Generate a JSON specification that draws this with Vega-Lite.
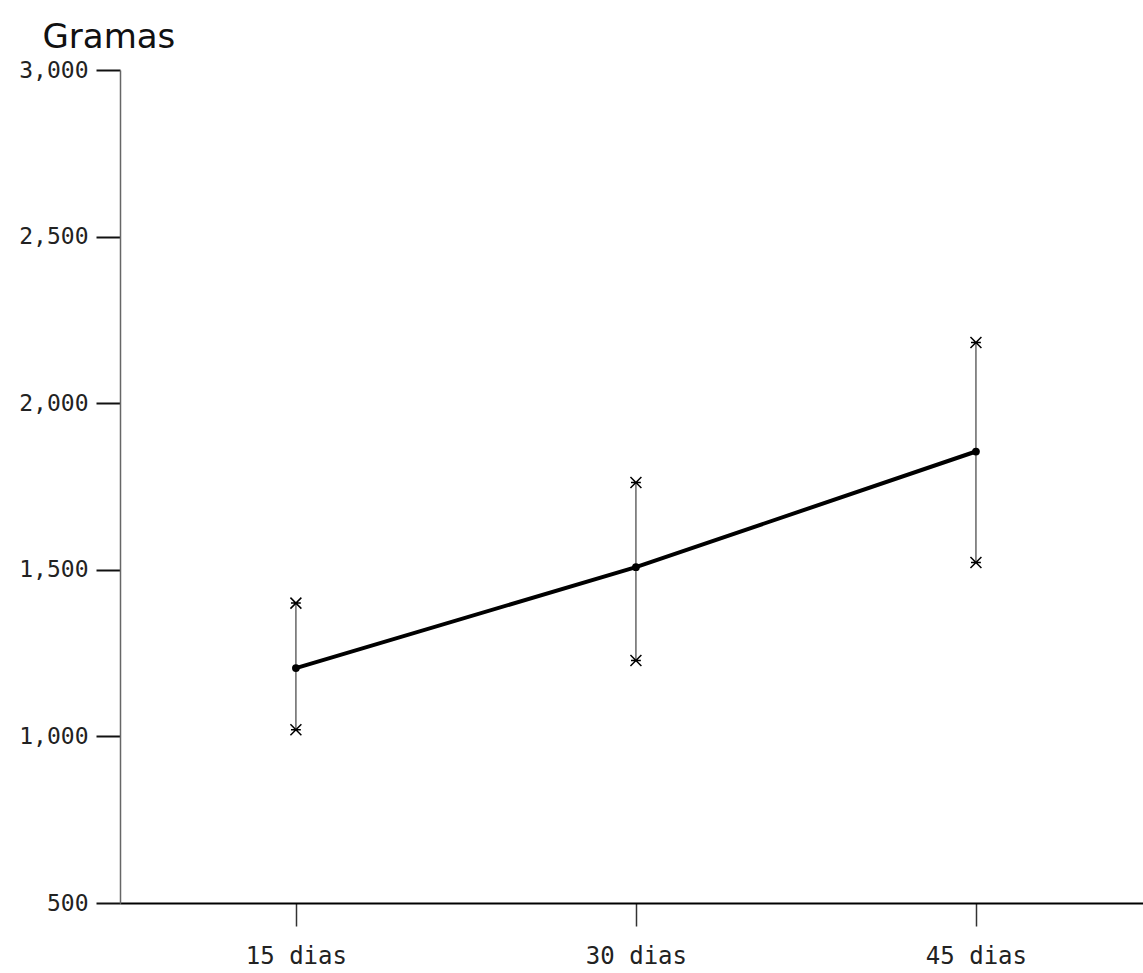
{
  "$schema": "https://vega.github.io/schema/vega-lite/v6.json",
  "width": 1023,
  "height": 833,
  "autosize": {"type": "none"},
  "padding": {"left": 120, "top": 70, "right": 0, "bottom": 70},
  "background": "white",
  "config": {"view": {"stroke": null}, "font": "DejaVu Sans"},
  "data": {"values": [
    {"dia": 15, "media": 1205, "sup": 1400, "inf": 1020},
    {"dia": 30, "media": 1508, "sup": 1762, "inf": 1228},
    {"dia": 45, "media": 1855, "sup": 2182, "inf": 1522}
  ]},
  "encoding": {
    "x": {
      "field": "dia", "type": "quantitative",
      "scale": {"domain": [7.24, 52.37], "nice": false, "zero": false},
      "axis": {
        "values": [15, 30, 45], "labelExpr": "datum.value + ' dias'",
        "title": null, "grid": false, "tickSize": 23, "tickWidth": 1.5, "tickColor": "#333",
        "domainColor": "#000", "domainWidth": 2, "labelPadding": 18, "labelFontSize": 24,
        "labelColor": "#222", "labelFont": "DejaVu Sans Mono"
      }
    }
  },
  "layer": [
    {
      "mark": {"type": "rule", "color": "#666", "strokeWidth": 1.5},
      "encoding": {
        "y": {
          "field": "inf", "type": "quantitative", "title": "Gramas",
          "scale": {"domain": [500, 3000], "nice": false, "zero": false},
          "axis": {
            "values": [500, 1000, 1500, 2000, 2500, 3000], "labelExpr": "format(datum.value, ',.0f')",
            "grid": false, "tickSize": 24, "tickWidth": 2, "tickColor": "#111",
            "domainColor": "#666", "domainWidth": 1.5, "labelPadding": 8,
            "labelFontSize": 23, "labelColor": "#222", "labelFont": "DejaVu Sans Mono",
            "titleAngle": 0, "titleAlign": "left", "titleBaseline": "alphabetic",
            "titleX": -78, "titleY": -23, "titleFontSize": 34, "titleFontWeight": "normal",
            "titleColor": "#111", "titleFont": "DejaVu Sans"
          }
        },
        "y2": {"field": "sup"}
      }
    },
    {
      "mark": {"type": "line", "color": "#000", "strokeWidth": 4},
      "encoding": {"y": {"field": "media", "type": "quantitative", "title": "Gramas", "scale": {"domain": [500, 3000], "nice": false, "zero": false}}}
    },
    {
      "mark": {"type": "point", "filled": true, "color": "#000", "size": 60, "shape": "circle", "opacity": 1},
      "encoding": {"y": {"field": "media", "type": "quantitative", "title": "Gramas", "scale": {"domain": [500, 3000], "nice": false, "zero": false}}}
    },
    {
      "mark": {"type": "point", "filled": false, "color": "#000", "strokeWidth": 1.5, "size": 120, "opacity": 1,
        "shape": "M-1,-1L1,1M-1,1L1,-1M-0.9,0L0.9,0"},
      "encoding": {"y": {"field": "sup", "type": "quantitative", "title": "Gramas", "scale": {"domain": [500, 3000], "nice": false, "zero": false}}}
    },
    {
      "mark": {"type": "point", "filled": false, "color": "#000", "strokeWidth": 1.5, "size": 120, "opacity": 1,
        "shape": "M-1,-1L1,1M-1,1L1,-1M-0.9,0L0.9,0"},
      "encoding": {"y": {"field": "inf", "type": "quantitative", "title": "Gramas", "scale": {"domain": [500, 3000], "nice": false, "zero": false}}}
    }
  ]
}
